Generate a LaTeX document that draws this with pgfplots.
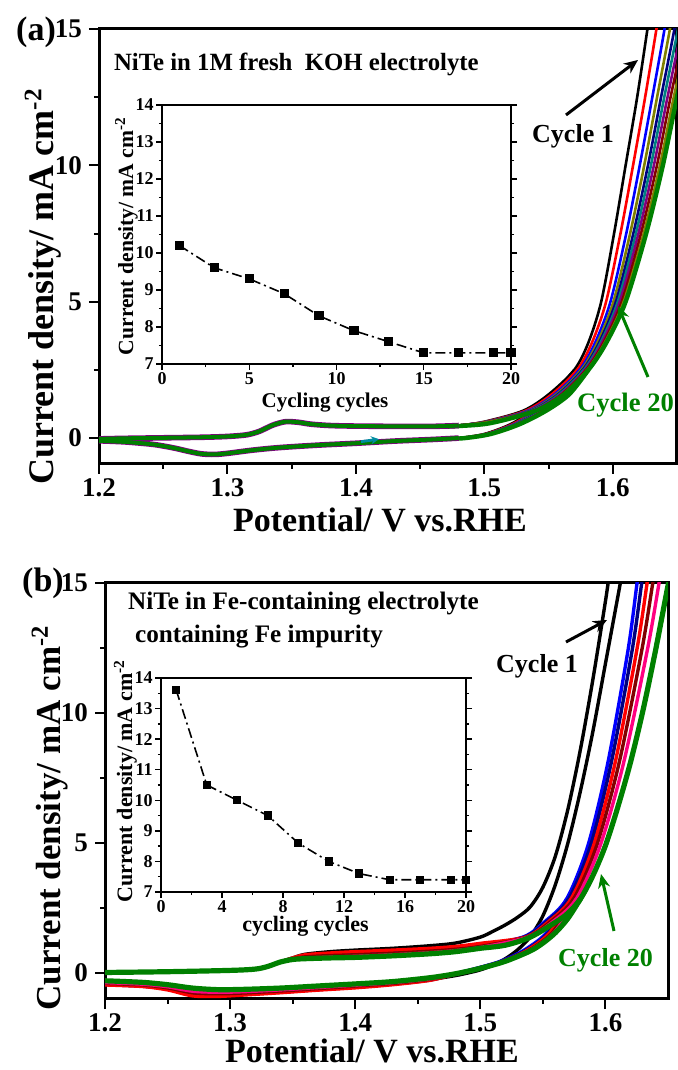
\documentclass[border=0pt]{standalone}
\usepackage{fontspec}
\setmainfont{Liberation Serif}
\usepackage{pgfplots}
\pgfplotsset{compat=1.18}
\usetikzlibrary{arrows.meta}
\definecolor{ogreen}{RGB}{0,128,0}
\definecolor{oolive}{RGB}{128,128,0}
\definecolor{onavy}{RGB}{0,0,128}
\definecolor{owine}{RGB}{128,0,0}
\definecolor{ocyan}{RGB}{0,128,128}
\definecolor{opurple}{RGB}{128,0,128}
\definecolor{opink}{RGB}{255,0,128}
\definecolor{oblue}{RGB}{0,0,255}
\definecolor{ored}{RGB}{255,0,0}
\definecolor{oteal}{RGB}{0,140,160}
\pgfplotsset{
  mainax/.style={
    scale only axis, anchor=south west,
    xmin=1.2, xmax=1.65, ymax=15,
    xtick={1.2,1.3,1.4,1.5,1.6}, ytick={0,5,10,15},
    minor x tick num=1, minor y tick num=1,
    xtick pos=lower, ytick pos=left, tick align=outside,
    major tick length=5pt, minor tick length=2.5pt,
    tick style={line width=1pt, black},
    axis line style={line width=1.5pt},
    /pgf/number format/assume math mode=true,
    xticklabel style={inner sep=2pt, /pgf/number format/.cd, fixed, fixed zerofill, precision=1},
    every tick label/.append style={font=\fontsize{13.5}{14}\selectfont\bfseries},
  },
  inax/.style={
    scale only axis, anchor=south west,
    xmin=0, xmax=20, ymin=7, ymax=14,
    ytick={7,8,...,14}, minor y tick num=1, minor x tick num=1,
    xtick pos=lower, ytick pos=both, tick align=outside,
    major tick length=3pt, minor tick length=1.6pt,
    tick style={line width=0.7pt, black},
    axis line style={line width=0.9pt},
    axis background/.style={fill=white},
    /pgf/number format/assume math mode=true,
    every tick label/.append style={inner sep=1pt, font=\fontsize{9}{9}\selectfont\bfseries},
  },
  cyc/.style={smooth, tension=0.5, line width=1.3pt},
  cycb/.style={smooth, tension=0.5, line width=1.7pt},
}
\begin{document}
\begin{tikzpicture}
\useasboundingbox (0,0) rectangle (339pt,535pt);
% ================= Panel (a) =================
\begin{axis}[mainax, at={(49.5pt,303pt)}, width=289pt, height=217.5pt, ymin=-0.95]
\addplot[cyc, black] coordinates {(1.47,0.43)(1.48,0.46)(1.500,0.6)(1.530,1.0)(1.550,1.6)(1.570,2.5)(1.581,3.5)(1.591,5)(1.601,7.5)(1.610,10)(1.619,12.5)(1.627,15)(1.630,16)};
\addplot[cyc, black] coordinates {(1.570,2.5)(1.553,1.6)(1.537,1.0)(1.520,0.5)(1.500,0.15)(1.48,0.0)(1.47,-0.03)};
\addplot[cyc, ored] coordinates {(1.47,0.43)(1.48,0.46)(1.501,0.6)(1.532,1.0)(1.5524,1.6)(1.5722,2.5)(1.5838,3.5)(1.5948,5)(1.606,7.5)(1.6158,10)(1.6252,12.5)(1.634,15)(1.637,16)};
\addplot[cyc, ored] coordinates {(1.5722,2.5)(1.5556,1.6)(1.5392,1.0)(1.5214,0.5)(1.501,0.15)(1.481,0.0)(1.47,-0.03)};
\addplot[cyc, oblue] coordinates {(1.47,0.43)(1.48,0.46)(1.502,0.6)(1.5338,1.0)(1.5546,1.6)(1.5742,2.5)(1.5863,3.5)(1.5982,5)(1.6105,7.5)(1.621,10)(1.6308,12.5)(1.6403,15)(1.643,16)};
\addplot[cyc, oblue] coordinates {(1.5742,2.5)(1.5579,1.6)(1.5412,1.0)(1.5227,0.5)(1.502,0.15)(1.482,0.0)(1.47,-0.03)};
\addplot[cyc, oolive] coordinates {(1.47,0.43)(1.48,0.46)(1.5025,0.6)(1.535,1.0)(1.556,1.6)(1.5755,2.5)(1.588,3.5)(1.6005,5)(1.6135,7.5)(1.6245,10)(1.6345,12.5)(1.6445,15)(1.6475,16)};
\addplot[cyc, oolive] coordinates {(1.5755,2.5)(1.5595,1.6)(1.5425,1.0)(1.5235,0.5)(1.5025,0.15)(1.4825,0.0)(1.47,-0.03)};
\addplot[cyc, onavy] coordinates {(1.47,0.43)(1.48,0.46)(1.503,0.6)(1.536,1.0)(1.5572,1.6)(1.5766,2.5)(1.5894,3.5)(1.6024,5)(1.616,7.5)(1.6274,10)(1.6376,12.5)(1.648,15)(1.651,16)};
\addplot[cyc, onavy] coordinates {(1.5766,2.5)(1.5608,1.6)(1.5436,1.0)(1.5242,0.5)(1.503,0.15)(1.483,0.0)(1.47,-0.03)};
\addplot[cyc, ocyan] coordinates {(1.47,0.43)(1.48,0.46)(1.5034,0.6)(1.5368,1.0)(1.5582,1.6)(1.5775,2.5)(1.5905,3.5)(1.6039,5)(1.618,7.5)(1.6297,10)(1.6401,12.5)(1.6508,15)(1.654,16)};
\addplot[cyc, ocyan] coordinates {(1.5775,2.5)(1.5618,1.6)(1.5445,1.0)(1.5248,0.5)(1.5034,0.15)(1.4834,0.0)(1.47,-0.03)};
\addplot[cyc, opurple] coordinates {(1.47,0.43)(1.48,0.46)(1.5038,0.6)(1.5376,1.0)(1.5591,1.6)(1.5784,2.5)(1.5916,3.5)(1.6054,5)(1.620,7.5)(1.632,10)(1.6426,12.5)(1.6536,15)};
\addplot[cyc, opurple] coordinates {(1.5784,2.5)(1.5629,1.6)(1.5454,1.0)(1.5253,0.5)(1.5038,0.15)(1.4838,0.0)(1.47,-0.03)};
\addplot[cyc, owine] coordinates {(1.47,0.43)(1.48,0.46)(1.5042,0.6)(1.5384,1.0)(1.5601,1.6)(1.5792,2.5)(1.5928,3.5)(1.607,5)(1.622,7.5)(1.6344,10)(1.645,12.5)(1.6564,15)};
\addplot[cyc, owine] coordinates {(1.5792,2.5)(1.5639,1.6)(1.5462,1.0)(1.5259,0.5)(1.5042,0.15)(1.4842,0.0)(1.47,-0.03)};
\addplot[cyc, oolive] coordinates {(1.47,0.43)(1.48,0.46)(1.5046,0.6)(1.5392,1.0)(1.561,1.6)(1.5801,2.5)(1.5939,3.5)(1.6085,5)(1.624,7.5)(1.6367,10)(1.6475,12.5)(1.6592,15)};
\addplot[cyc, oolive] coordinates {(1.5801,2.5)(1.565,1.6)(1.5471,1.0)(1.5264,0.5)(1.5046,0.15)(1.4846,0.0)(1.47,-0.03)};
\addplot[cyc, ogreen, line width=2.2pt] coordinates {(1.47,0.42)(1.48,0.44)(1.505,0.55)(1.540,1.0)(1.562,1.6)(1.581,2.5)(1.595,3.5)(1.610,5)(1.626,7.5)(1.639,10)(1.650,12.5)(1.662,15)};
\addplot[cyc, ogreen, line width=2.2pt] coordinates {(1.581,2.5)(1.566,1.6)(1.548,1.0)(1.527,0.5)(1.505,0.15)(1.485,0.0)(1.47,-0.03)};
\addplot[cyc, opurple, line width=2.8pt] coordinates {(1.20,-0.03)(1.22,-0.01)(1.25,0.01)(1.28,0.03)(1.30,0.06)(1.315,0.12)(1.325,0.25)(1.335,0.47)(1.345,0.6)(1.355,0.58)(1.365,0.51)(1.38,0.46)(1.40,0.44)(1.43,0.43)(1.46,0.43)(1.48,0.46)};
\addplot[cyc, opurple, line width=2.8pt] coordinates {(1.48,0.0)(1.46,-0.05)(1.43,-0.11)(1.40,-0.19)(1.37,-0.26)(1.34,-0.35)(1.32,-0.44)(1.30,-0.56)(1.29,-0.6)(1.28,-0.58)(1.27,-0.49)(1.26,-0.38)(1.25,-0.29)(1.24,-0.22)(1.22,-0.14)(1.20,-0.1)};
\addplot[cyc, ogreen, line width=2.0pt] coordinates {(1.20,-0.03)(1.22,-0.01)(1.25,0.01)(1.28,0.03)(1.30,0.06)(1.315,0.12)(1.325,0.25)(1.335,0.47)(1.345,0.6)(1.355,0.58)(1.365,0.51)(1.38,0.46)(1.40,0.44)(1.43,0.43)(1.46,0.43)(1.48,0.46)};
\addplot[cyc, ogreen, line width=2.0pt] coordinates {(1.48,0.0)(1.46,-0.05)(1.43,-0.11)(1.40,-0.19)(1.37,-0.26)(1.34,-0.35)(1.32,-0.44)(1.30,-0.56)(1.29,-0.6)(1.28,-0.58)(1.27,-0.49)(1.26,-0.38)(1.25,-0.29)(1.24,-0.22)(1.22,-0.14)(1.20,-0.1)};
\draw[oteal, line width=1.4pt, -{Stealth[length=4pt,width=4pt]}] (axis cs:1.404,-0.13) -- (axis cs:1.418,-0.04);
\end{axis}
\begin{axis}[inax, at={(81pt,353pt)}, width=174.5pt, height=129.5pt, xtick={0,5,10,15,20}]
\addplot[black, line width=0.8pt, dash pattern=on 5pt off 2pt on 1pt off 2pt, mark=square*, mark size=1.9pt, mark options={solid}] coordinates {(1,10.2)(3,9.6)(5,9.3)(7,8.9)(9,8.3)(11,7.9)(13,7.6)(15,7.3)(17,7.3)(19,7.3)(20,7.3)};
\end{axis}
\node[font=\fontsize{17}{17}\selectfont\bfseries] at (18pt,519pt) {(a)};
\node[anchor=base, font=\fontsize{17}{17}\selectfont\bfseries] at (190pt,269pt) {Potential/ V vs.RHE};
\node[rotate=90, anchor=base, font=\fontsize{18}{18}\selectfont\bfseries] at (27pt,391.75pt) {Current density/ mA cm\textsuperscript{-2}};
\node[anchor=west, font=\fontsize{12.4}{13}\selectfont\bfseries] at (53.5pt,503pt) {NiTe in 1M fresh~ KOH electrolyte};
\node[font=\fontsize{13}{13}\selectfont\bfseries] at (286.5pt,467pt) {Cycle 1};
\node[font=\fontsize{13.3}{13}\selectfont\bfseries, text=ogreen] at (312.75pt,332.5pt) {Cycle 20};
\draw[line width=1.5pt, -{Stealth[length=7pt,width=6pt]}] (283pt,477.5pt) -- (319pt,505pt);
\draw[ogreen, line width=1.5pt, -{Stealth[length=7pt,width=6pt]}] (324pt,346.5pt) -- (309pt,382pt);
\node[rotate=90, anchor=base, font=\fontsize{10.8}{11}\selectfont\bfseries] at (66.5pt,417pt) {Current density/ mA cm\textsuperscript{-2}};
\node[anchor=base, font=\fontsize{10.5}{11}\selectfont\bfseries] at (162.5pt,331pt) {Cycling cycles};
% ================= Panel (b) =================
\begin{axis}[mainax, at={(52.5pt,35.5pt)}, width=281.5pt, height=208pt, ymin=-1]
\addplot[cycb, black] coordinates {(1.20,0.02)(1.25,0.05)(1.30,0.1)(1.32,0.15)(1.33,0.25)(1.34,0.42)(1.35,0.58)(1.36,0.72)(1.38,0.82)(1.40,0.88)(1.43,0.95)(1.46,1.05)(1.48,1.15)(1.50,1.38)(1.51,1.6)(1.52,1.85)(1.53,2.15)(1.54,2.55)(1.55,3.3)(1.56,4.5)(1.57,6.3)(1.58,8.6)(1.59,11.3)(1.60,14.3)(1.603,15.3)};
\addplot[cycb, black] coordinates {(1.613,15.3)(1.61,14.5)(1.60,11.9)(1.59,9.3)(1.58,7.0)(1.57,5.0)(1.56,3.4)(1.55,2.2)(1.54,1.4)(1.53,0.9)(1.52,0.55)(1.51,0.3)(1.50,0.12)(1.49,0.0)(1.48,-0.1)(1.46,-0.25)(1.43,-0.42)(1.40,-0.55)(1.37,-0.64)(1.34,-0.74)(1.31,-0.83)(1.29,-0.87)(1.27,-0.85)(1.25,-0.62)(1.23,-0.5)(1.20,-0.44)};
\addplot[cycb, oblue] coordinates {(1.20,0.02)(1.25,0.05)(1.30,0.1)(1.32,0.15)(1.33,0.25)(1.34,0.42)(1.35,0.56)(1.36,0.63)(1.38,0.68)(1.40,0.72)(1.43,0.78)(1.46,0.86)(1.48,0.94)(1.50,1.06)(1.534,1.38)(1.551,1.95)(1.569,2.85)(1.586,4.9)(1.602,8.1)(1.618,12.4)(1.625,14.9)(1.628,16)};
\addplot[cycb, oblue] coordinates {(1.569,2.85)(1.553,1.55)(1.534,0.85)(1.516,0.45)(1.497,0.18)(1.478,-0.05)(1.46,-0.25)(1.43,-0.41)(1.40,-0.52)(1.37,-0.62)(1.34,-0.71)(1.31,-0.8)(1.29,-0.84)(1.27,-0.8)(1.25,-0.6)(1.23,-0.49)(1.20,-0.43)};
\addplot[cycb, onavy] coordinates {(1.20,0.02)(1.25,0.05)(1.30,0.1)(1.32,0.15)(1.33,0.25)(1.34,0.42)(1.35,0.55)(1.36,0.6)(1.38,0.65)(1.40,0.69)(1.43,0.75)(1.46,0.83)(1.48,0.9)(1.50,1.02)(1.535,1.38)(1.5523,1.95)(1.5706,2.85)(1.5881,4.9)(1.6047,8.1)(1.6213,12.4)(1.6287,14.9)(1.632,16)};
\addplot[cycb, onavy] coordinates {(1.5706,2.85)(1.5545,1.55)(1.5355,0.85)(1.517,0.45)(1.4975,0.18)(1.4785,-0.05)(1.46,-0.27)(1.43,-0.43)(1.40,-0.54)(1.37,-0.64)(1.34,-0.73)(1.31,-0.82)(1.29,-0.86)(1.27,-0.82)(1.25,-0.62)(1.23,-0.51)(1.20,-0.45)};
\addplot[cycb, ored] coordinates {(1.20,0.02)(1.25,0.05)(1.30,0.1)(1.32,0.15)(1.33,0.25)(1.34,0.42)(1.35,0.58)(1.36,0.7)(1.38,0.77)(1.40,0.82)(1.43,0.88)(1.46,0.95)(1.48,1.02)(1.50,1.14)(1.536,1.38)(1.5539,1.95)(1.5725,2.85)(1.5905,4.9)(1.6078,8.1)(1.625,12.4)(1.633,14.9)(1.636,16)};
\addplot[cycb, ored] coordinates {(1.5725,2.85)(1.5555,1.55)(1.5365,0.85)(1.518,0.45)(1.4985,0.18)(1.479,-0.05)(1.46,-0.28)(1.43,-0.45)(1.40,-0.57)(1.37,-0.66)(1.34,-0.76)(1.31,-0.85)(1.29,-0.9)(1.27,-0.88)(1.25,-0.65)(1.23,-0.52)(1.20,-0.46)};
\addplot[cycb, owine] coordinates {(1.20,0.02)(1.25,0.05)(1.30,0.1)(1.32,0.15)(1.33,0.25)(1.34,0.42)(1.35,0.55)(1.36,0.62)(1.38,0.67)(1.40,0.7)(1.43,0.76)(1.46,0.84)(1.48,0.91)(1.50,1.02)(1.537,1.38)(1.5555,1.95)(1.5745,2.85)(1.593,4.9)(1.611,8.1)(1.629,12.4)(1.6375,14.9)(1.641,16)};
\addplot[cycb, owine] coordinates {(1.5745,2.85)(1.5575,1.55)(1.538,0.85)(1.519,0.45)(1.499,0.18)(1.4795,-0.05)(1.46,-0.24)(1.43,-0.4)(1.40,-0.5)(1.37,-0.6)(1.34,-0.69)(1.31,-0.77)(1.29,-0.8)(1.27,-0.76)(1.25,-0.57)(1.23,-0.46)(1.20,-0.4)};
\addplot[cycb, opink] coordinates {(1.20,0.02)(1.25,0.05)(1.30,0.1)(1.32,0.15)(1.33,0.25)(1.34,0.42)(1.35,0.54)(1.36,0.57)(1.38,0.61)(1.40,0.64)(1.43,0.7)(1.46,0.78)(1.48,0.86)(1.50,0.98)(1.538,1.38)(1.5573,1.95)(1.5767,2.85)(1.5958,4.9)(1.6146,8.1)(1.6334,12.4)(1.6425,14.9)(1.646,16)};
\addplot[cycb, opink] coordinates {(1.5767,2.85)(1.559,1.55)(1.539,0.85)(1.5195,0.45)(1.4995,0.18)(1.48,-0.04)(1.46,-0.22)(1.43,-0.37)(1.40,-0.47)(1.37,-0.56)(1.34,-0.65)(1.31,-0.72)(1.29,-0.74)(1.27,-0.7)(1.25,-0.53)(1.23,-0.43)(1.20,-0.37)};
\addplot[cycb, ogreen, line width=2.6pt] coordinates {(1.20,0.02)(1.25,0.05)(1.30,0.1)(1.32,0.15)(1.33,0.25)(1.34,0.42)(1.35,0.52)(1.36,0.55)(1.38,0.58)(1.40,0.6)(1.43,0.66)(1.46,0.74)(1.48,0.82)(1.50,0.95)(1.52,1.07)(1.54,1.38)(1.56,1.95)(1.57,2.3)(1.58,2.85)(1.59,3.75)(1.60,4.9)(1.61,6.4)(1.62,8.1)(1.63,10.1)(1.64,12.4)(1.65,14.9)(1.655,16)};
\addplot[cycb, ogreen, line width=2.6pt] coordinates {(1.58,2.85)(1.57,2.1)(1.56,1.55)(1.55,1.15)(1.54,0.85)(1.52,0.45)(1.50,0.18)(1.48,-0.03)(1.46,-0.18)(1.43,-0.33)(1.40,-0.42)(1.37,-0.5)(1.34,-0.58)(1.31,-0.63)(1.29,-0.64)(1.27,-0.58)(1.25,-0.45)(1.23,-0.36)(1.20,-0.3)};
\end{axis}
\begin{axis}[inax, at={(80.5pt,89pt)}, width=152.5pt, height=107pt, xtick={0,4,8,12,16,20}]
\addplot[black, line width=0.8pt, dash pattern=on 5pt off 2pt on 1pt off 2pt, mark=square*, mark size=1.7pt, mark options={solid}] coordinates {(1,13.6)(3,10.5)(5,10.0)(7,9.5)(9,8.6)(11,8.0)(13,7.6)(15,7.4)(17,7.4)(19,7.4)(20,7.4)};
\end{axis}
\node[font=\fontsize{17}{17}\selectfont\bfseries] at (21.5pt,243.5pt) {(b)};
\node[anchor=base, font=\fontsize{17}{17}\selectfont\bfseries] at (186pt,4pt) {Potential/ V vs.RHE};
\node[rotate=90, anchor=base, font=\fontsize{17.5}{18}\selectfont\bfseries] at (30.25pt,126pt) {Current density/ mA cm\textsuperscript{-2}};
\node[anchor=west, font=\fontsize{12.6}{13}\selectfont\bfseries] at (60.5pt,233pt) {NiTe in Fe-containing electrolyte};
\node[anchor=west, font=\fontsize{12.6}{13}\selectfont\bfseries] at (64pt,216.5pt) {containing Fe impurity};
\node[font=\fontsize{13}{13}\selectfont\bfseries] at (268.5pt,202pt) {Cycle 1};
\node[font=\fontsize{13}{13}\selectfont\bfseries, text=ogreen] at (302.75pt,55pt) {Cycle 20};
\draw[line width=1.5pt, -{Stealth[length=7pt,width=6pt]}] (283pt,214pt) -- (303.5pt,225pt);
\draw[ogreen, line width=1.5pt, -{Stealth[length=7pt,width=6pt]}] (307pt,69.5pt) -- (300.5pt,98pt);
\node[rotate=90, anchor=base, font=\fontsize{11}{11}\selectfont\bfseries] at (66pt,144.5pt) {Current density/ mA cm\textsuperscript{-2}};
\node[anchor=base, font=\fontsize{11}{11}\selectfont\bfseries] at (152.75pt,69pt) {cycling cycles};
\end{tikzpicture}
\end{document}
